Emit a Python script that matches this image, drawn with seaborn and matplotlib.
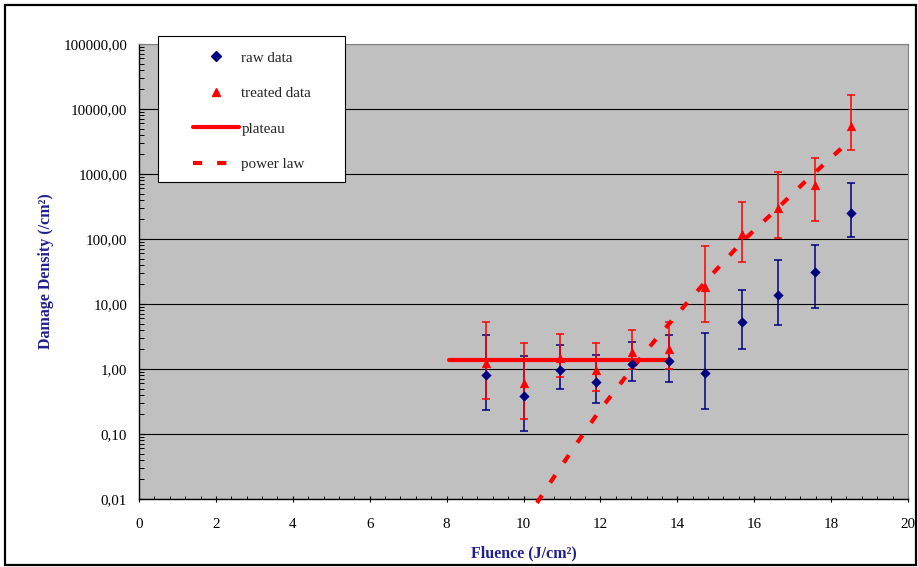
import numpy as np
import pandas as pd
import matplotlib
matplotlib.use("Agg")
import matplotlib.pyplot as plt
import matplotlib.ticker as mticker
from matplotlib.patches import Rectangle
from matplotlib.lines import Line2D
import seaborn as sns

# ---------------- data ----------------
fluence = [9.03, 10.00, 10.95, 11.88, 12.83, 13.78, 14.72, 15.68, 16.63, 17.59, 18.53]

raw = [0.81, 0.39, 0.97, 0.64, 1.19, 1.33, 0.87, 5.3, 13.7, 30.7, 254]
raw_low = [0.23, 0.11, 0.49, 0.30, 0.65, 0.62, 0.24, 2.05, 4.7, 8.6, 107]
raw_high = [3.3, 1.6, 2.3, 1.62, 2.63, 3.37, 3.6, 16.6, 48, 82, 735]

treated = [1.22, 0.60, 1.46, 0.97, 1.8, 2.0, 18.5, 118, 302, 676, 5530]
tr_low = [0.35, 0.17, 0.76, 0.46, 1.0, 1.0, 5.3, 45, 104, 189, 2340]
tr_high = [5.2, 2.5, 3.5, 2.5, 4.0, 5.2, 79, 371, 1064, 1780, 16200]

plateau_x = [8.05, 13.75]
plateau_y = [1.37, 1.37]

powerlaw_x = [10.35, 10.67, 11.32, 11.98, 12.68, 13.41, 14.16, 14.91, 15.72, 16.55, 17.39, 18.24, 18.32]
powerlaw_y = [0.0087, 0.017, 0.063, 0.23, 0.79, 2.72, 9.0, 28.8, 95, 275, 830, 2400, 2650]

y_ticks = [0.01, 0.1, 1, 10, 100, 1000, 10000, 100000]
x_ticks = [0, 2, 4, 6, 8, 10, 12, 14, 16, 18, 20]

labels = ["raw data", "treated data", "plateau", "power law"]
x_label = "Fluence (J/cm²)"
y_label = "Damage Density (/cm²)"

# ---------------- style ----------------
sns.set_theme(style="white")
plt.rcParams["font.family"] = ["Liberation Serif", "DejaVu Serif"]
plt.rcParams["mathtext.fontset"] = "stix"

NAVY = "#000080"
RED = "#FF0000"
LABEL_BLUE = "#1f1f8f"

W, H = 918, 567
fig = plt.figure(figsize=(W / 100, H / 100), dpi=100)
fig.patch.set_facecolor("white")

L, R, T, B = 139, 908, 44, 499
ax = fig.add_axes([L / W, 1 - B / H, (R - L) / W, (B - T) / H])
ax.set_facecolor("#C0C0C0")
ax.set_yscale("log")
ax.set_xlim(0, 20)
ax.set_ylim(0.01, 100000)

# gridlines
ax.yaxis.grid(True, which="major", color="black", linewidth=0.8)
ax.xaxis.grid(False)
ax.set_axisbelow(True)

df_raw = pd.DataFrame({"x": fluence, "y": raw, "lo": raw_low, "hi": raw_high})
df_tr = pd.DataFrame({"x": fluence, "y": treated, "lo": tr_low, "hi": tr_high})

# error bars
ax.errorbar(df_raw["x"], df_raw["y"],
            yerr=[df_raw["y"] - df_raw["lo"], df_raw["hi"] - df_raw["y"]],
            fmt="none", ecolor=NAVY, elinewidth=1.1, capsize=3.0, capthick=1.1, zorder=3)
ax.errorbar(df_tr["x"], df_tr["y"],
            yerr=[df_tr["y"] - df_tr["lo"], df_tr["hi"] - df_tr["y"]],
            fmt="none", ecolor=RED, elinewidth=1.1, capsize=3.0, capthick=1.1, zorder=4)

# lines
df_pl = pd.DataFrame({"x": plateau_x, "y": plateau_y})
sns.lineplot(data=df_pl, x="x", y="y", ax=ax, color=RED, linewidth=3.0,
             estimator=None, sort=False, zorder=5, legend=False)
df_pw = pd.DataFrame({"x": powerlaw_x, "y": powerlaw_y})
sns.lineplot(data=df_pw, x="x", y="y", ax=ax, color=RED, linewidth=3.0,
             estimator=None, sort=False, zorder=6, legend=False)
pw_line = ax.lines[-1]
pw_line.set_dashes((2.2, 3.6))
pw_line.set_dash_capstyle("butt")
pw_line.set_clip_on(False)

# markers
sns.scatterplot(data=df_raw, x="x", y="y", ax=ax, marker="D", s=24, color=NAVY,
                edgecolor=NAVY, linewidth=0.3, zorder=7, legend=False)
sns.scatterplot(data=df_tr, x="x", y="y", ax=ax, marker="^", s=40, color=RED,
                edgecolor=RED, linewidth=0.3, zorder=8, legend=False)

# ticks
ax.yaxis.set_major_locator(mticker.FixedLocator(y_ticks))
ax.yaxis.set_major_formatter(mticker.FuncFormatter(lambda v, p: f"{v:.2f}".replace(".", ",")))
ax.yaxis.set_minor_locator(mticker.LogLocator(base=10, subs=np.arange(2, 10), numticks=100))
ax.yaxis.set_minor_formatter(mticker.NullFormatter())
ax.xaxis.set_major_locator(mticker.FixedLocator(x_ticks))
ax.xaxis.set_major_formatter(mticker.FuncFormatter(lambda v, p: f"{v:g}"))
ax.xaxis.set_minor_locator(mticker.MultipleLocator(0.4))

ax.tick_params(axis="y", which="major", direction="in", length=4, width=0.8,
               colors="black", labelsize=10.8, pad=8.5, left=True)
ax.tick_params(axis="y", which="minor", direction="in", length=3.5, width=0.7,
               colors="black", left=True)
ax.tick_params(axis="x", which="major", direction="inout", length=4.5, width=0.8,
               colors="black", labelsize=10.8, pad=11.5, bottom=True)
ax.tick_params(axis="x", which="minor", direction="in", length=2.5, width=0.7,
               colors="black", bottom=True)

for side in ["left", "bottom"]:
    ax.spines[side].set_color("black")
    ax.spines[side].set_linewidth(1.0)
for side in ["right", "top"]:
    ax.spines[side].set_color("#808080")
    ax.spines[side].set_linewidth(0.8)

ax.set_xlabel(x_label, fontsize=11.5, fontweight="bold", color=LABEL_BLUE, labelpad=10)
ax.set_ylabel(y_label, fontsize=11.5, fontweight="bold", color=LABEL_BLUE, labelpad=7)

# legend box (drawn manually to match the reference's framed box)
legend_box = Rectangle((158 / W, 1 - 182 / H), (345 - 158) / W, (182 - 36) / H,
                       transform=fig.transFigure, facecolor="white", edgecolor="black",
                       linewidth=0.8, zorder=10)
fig.patches.append(legend_box)

handles = [
    Line2D([], [], linestyle="none", marker="D", markersize=5, color=NAVY),
    Line2D([], [], linestyle="none", marker="^", markersize=6.3, color=RED),
    Line2D([], [], color=RED, linewidth=3.0),
    Line2D([], [], color=RED, linewidth=3.0, dashes=(2.2, 3.6)),
]
leg = fig.legend(handles, labels, loc="upper left",
                 bbox_to_anchor=(193 / W, 1 - 51 / H), bbox_transform=fig.transFigure,
                 frameon=False, fontsize=10.9, borderpad=0, borderaxespad=0,
                 handlelength=3.05, handletextpad=0.15, labelspacing=1.45)
leg.set_zorder(11)

# outer frame
frame = Rectangle((5 / W, 1 - 565 / H), (916 - 5) / W, (565 - 5) / H,
                  transform=fig.transFigure, facecolor="none", edgecolor="black",
                  linewidth=1.6, zorder=20)
fig.patches.append(frame)

fig.savefig("out.png", dpi=100)
